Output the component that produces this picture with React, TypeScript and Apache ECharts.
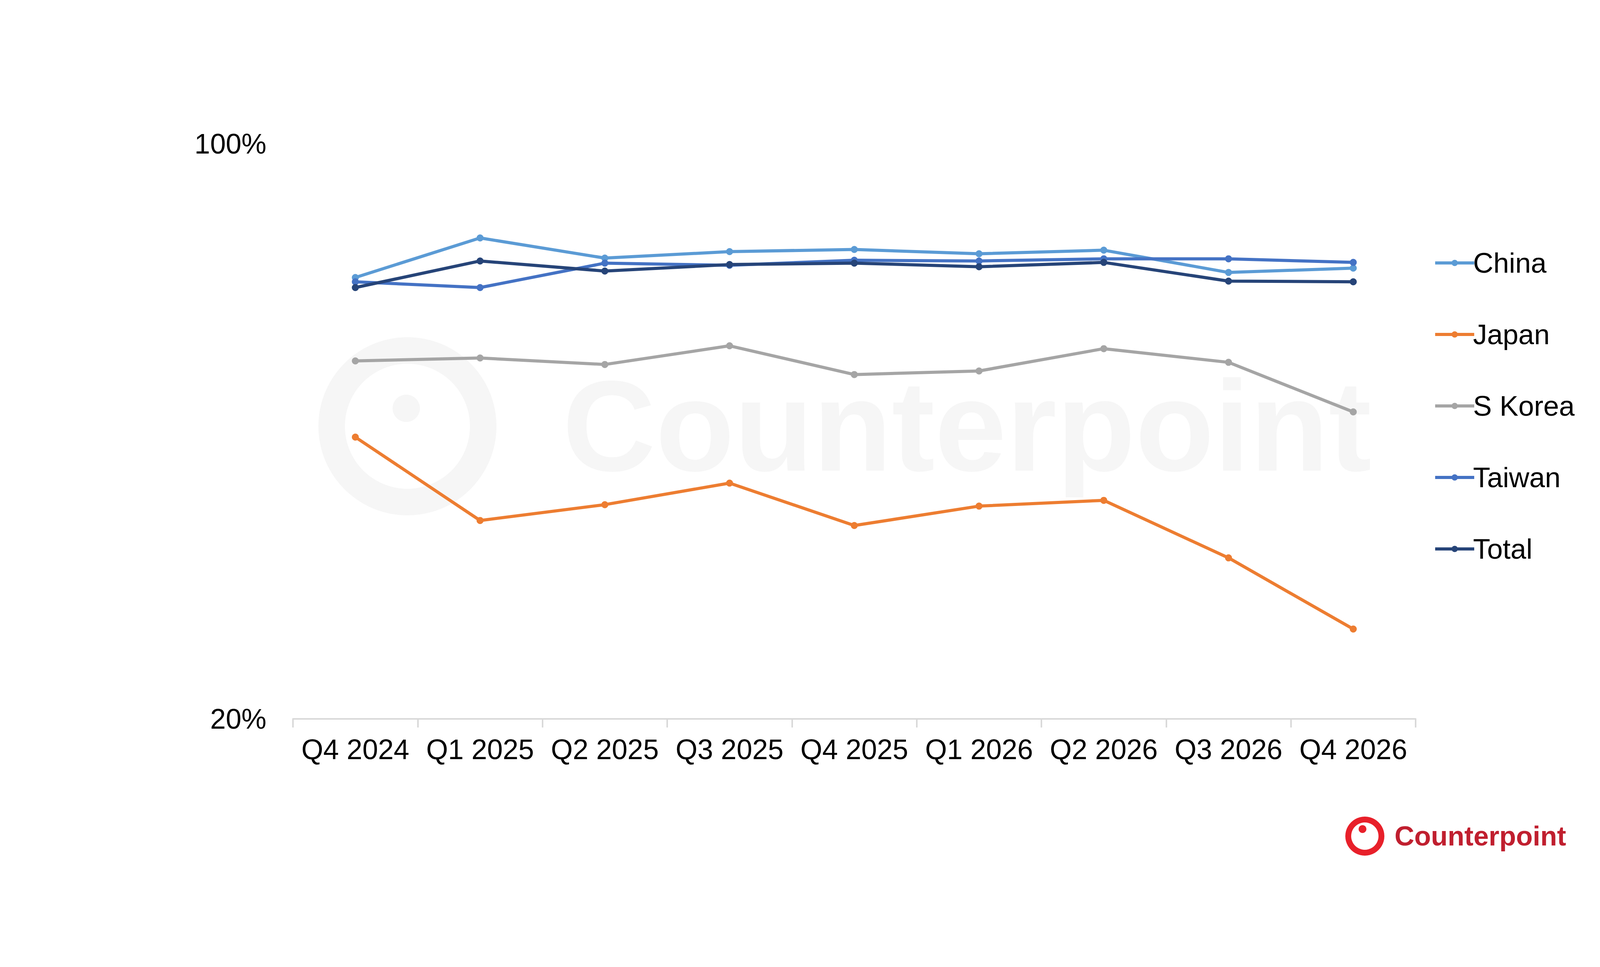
import React, { useEffect, useRef } from 'react';
import * as echarts from 'echarts';

const quarters = ['Q4 2024', 'Q1 2025', 'Q2 2025', 'Q3 2025', 'Q4 2025', 'Q1 2026', 'Q2 2026', 'Q3 2026', 'Q4 2026'];
const china = [81.4, 86.9, 84.1, 85.0, 85.3, 84.7, 85.2, 82.1, 82.7];
const japan = [59.2, 47.6, 49.8, 52.8, 46.9, 49.6, 50.4, 42.4, 32.5];
const sKorea = [69.8, 70.2, 69.3, 71.9, 67.9, 68.4, 71.5, 69.6, 62.7];
const taiwan = [80.8, 80.0, 83.4, 83.1, 83.8, 83.7, 84.0, 84.0, 83.5];
const total = [80.0, 83.7, 82.3, 83.2, 83.4, 82.9, 83.5, 80.9, 80.8];

const seriesDefs = [
  { name: 'China', data: china, color: '#5B9BD5' },
  { name: 'Japan', data: japan, color: '#ED7D31' },
  { name: 'S Korea', data: sKorea, color: '#A5A5A5' },
  { name: 'Taiwan', data: taiwan, color: '#4472C4' },
  { name: 'Total', data: total, color: '#264478' },
];

const font = 'Liberation Sans, Arial, sans-serif';

const App = () => {
  const chartRef = useRef<HTMLDivElement>(null);

  useEffect(() => {
    document.body.style.margin = '0';
    if (!chartRef.current) return;
    const chart = echarts.init(chartRef.current, null, { renderer: 'svg' });

    const option: echarts.EChartsOption = {
      animation: false,
      backgroundColor: '#ffffff',
      grid: { left: 750, right: 776, top: 368, bottom: 635, containLabel: false },
      graphic: [
        // faint watermark
        { type: 'ring', shape: { cx: 1043, cy: 1091, r: 228, r0: 160 }, style: { fill: '#f6f6f6' }, z: -10 },
        { type: 'circle', shape: { cx: 1040, cy: 1045, r: 35 }, style: { fill: '#f6f6f6' }, z: -10 },
        {
          type: 'text', x: 1440, y: 1090, z: -10,
          style: { text: 'Counterpoint', font: `bold 330px ${font}`, fill: '#f6f6f6', verticalAlign: 'middle' },
        },
        // logo
        { type: 'ring', shape: { cx: 3494, cy: 2140, r: 50, r0: 35 }, style: { fill: '#E8202A' } },
        { type: 'circle', shape: { cx: 3488, cy: 2122, r: 10 }, style: { fill: '#E8202A' } },
        {
          type: 'text', x: 3570, y: 2140,
          style: { text: 'Counterpoint', font: `bold 70px ${font}`, fill: '#C01F2F', verticalAlign: 'middle' },
        },
      ],
      legend: {
        orient: 'vertical',
        left: 3665,
        top: 632,
        itemWidth: 100,
        itemHeight: 20,
        itemGap: 111,
        lineStyle: { width: 8 },
        textStyle: { fontSize: 72, fontFamily: font, color: '#000', padding: [0, 0, 0, -8] },
        data: seriesDefs.map(s => s.name),
      },
      xAxis: {
        type: 'category',
        data: quarters,
        boundaryGap: true,
        axisLine: { lineStyle: { color: '#d9d9d9', width: 4 } },
        axisTick: { show: true, length: 22, lineStyle: { color: '#d9d9d9', width: 4 } },
        axisLabel: { fontSize: 72, fontFamily: font, color: '#000', margin: 42, interval: 0 },
      },
      yAxis: {
        type: 'value',
        min: 20,
        max: 100,
        interval: 80,
        splitLine: { show: false },
        axisLine: { show: false },
        axisTick: { show: false },
        axisLabel: { fontSize: 72, fontFamily: font, color: '#000', margin: 68, formatter: '{value}%' },
      },
      series: seriesDefs.map(s => ({
        name: s.name,
        type: 'line',
        data: s.data,
        symbol: 'circle',
        symbolSize: 18,
        color: s.color,
        lineStyle: { width: 8, color: s.color },
        itemStyle: { color: s.color },
      })),
    };

    chart.setOption(option);
    return () => chart.dispose();
  }, []);

  return <div ref={chartRef} style={{ width: 4400, height: 2475 }} />;
};

export default App;
